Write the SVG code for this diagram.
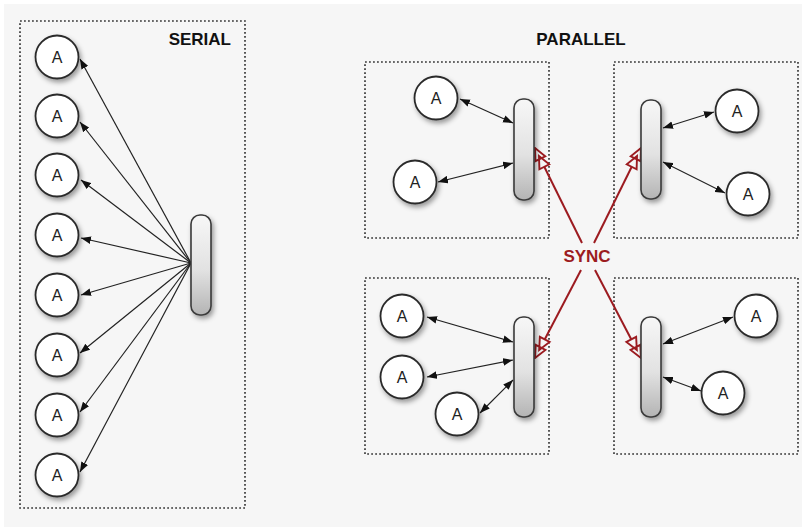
<svg xmlns="http://www.w3.org/2000/svg" width="806" height="529" viewBox="0 0 806 529">
<style>
.bg{fill:#f6f6f6}
.box{fill:none;stroke:#3a3a3a;stroke-width:1.7;stroke-dasharray:1.8 2.2}
.title{font-family:"Liberation Sans",Arial,sans-serif;font-weight:bold;font-size:17px;fill:#111}
.sync{font-family:"Liberation Sans",Arial,sans-serif;font-weight:bold;font-size:17px;fill:#9c1b20;text-anchor:middle}
.agent circle{fill:#fff;stroke:#2a2a2a;stroke-width:1.8;filter:url(#sh)}
.agent text{font-family:"Liberation Sans",Arial,sans-serif;font-size:16px;fill:#222;text-anchor:middle}
.rail rect{fill:url(#rg);stroke:#3a3a3a;stroke-width:1.6;filter:url(#sh)}
.c{stroke:#222;stroke-width:1.2;fill:none}
.one{marker-end:url(#ah)}
.two{marker-start:url(#ahs);marker-end:url(#ah)}
.red{stroke:#9c1b20;stroke-width:2;fill:none;marker-end:url(#rh)}
</style>
<defs>
<filter id="sh" x="-50%" y="-50%" width="200%" height="200%">
<feDropShadow dx="2" dy="3" stdDeviation="2.5" flood-color="#000" flood-opacity="0.38"/>
</filter>
<linearGradient id="rg" x1="0" y1="0" x2="0" y2="1">
<stop offset="0" stop-color="#f7f7f7"/>
<stop offset="0.55" stop-color="#e2e2e2"/>
<stop offset="1" stop-color="#b4b4b4"/>
</linearGradient>
<marker id="ah" markerUnits="userSpaceOnUse" viewBox="-10 -4 10 8" refX="0" refY="0" markerWidth="10" markerHeight="8" orient="auto">
<path d="M0,0 L-10,-3.8 L-10,3.8 Z" fill="#111"/>
</marker>
<marker id="ahs" markerUnits="userSpaceOnUse" viewBox="-10 -4 10 8" refX="0" refY="0" markerWidth="10" markerHeight="8" orient="auto-start-reverse">
<path d="M0,0 L-10,-3.8 L-10,3.8 Z" fill="#111"/>
</marker>
<marker id="rh" markerUnits="userSpaceOnUse" viewBox="-24 -7 25 14" refX="0" refY="0" markerWidth="25" markerHeight="14" orient="auto">
<path d="M-9,0 L-21,-5.5 L-21,5.5 Z M0,0 L-12,-5.5 L-12,5.5 Z" fill="#f6f6f6" stroke="#9c1b20" stroke-width="1.9" stroke-linejoin="miter"/>
</marker>
</defs>
<rect class="bg" x="4" y="4" width="798" height="523"/>

<g id="serial-box"><rect class="box" x="20" y="21" width="225" height="487"/><text class="title" x="231" y="45" text-anchor="end">SERIAL</text></g>
<g id="parallel-title"><text class="title" x="581" y="45" text-anchor="middle">PARALLEL</text></g>
<g id="box-tl"><rect class="box" x="365" y="62" width="184" height="176"/></g>
<g id="box-tr"><rect class="box" x="614" y="62" width="184" height="176"/></g>
<g id="box-bl"><rect class="box" x="365" y="278" width="184" height="176"/></g>
<g id="box-br"><rect class="box" x="614" y="278" width="184" height="176"/></g>

<g id="connectors">
<path class="c one" d="M191,263 L80,59"/>
<path class="c one" d="M191,263 L80,122"/>
<path class="c one" d="M191,263 L81,180"/>
<path class="c one" d="M191,263 L81,238"/>
<path class="c one" d="M191,263 L81,295"/>
<path class="c one" d="M191,263 L80,353"/>
<path class="c one" d="M191,263 L80,412"/>
<path class="c one" d="M191,263 L80,472"/>

<path class="c two" d="M460,99 L513,123"/>
<path class="c two" d="M438,182 L513,163"/>
<path class="c two" d="M663,128 L714,112"/>
<path class="c two" d="M663,162 L725,193"/>
<path class="c two" d="M427,317 L513,342"/>
<path class="c two" d="M427,377 L513,360"/>
<path class="c two" d="M480,413 L513,380"/>
<path class="c two" d="M663,344 L733,317"/>
<path class="c two" d="M663,377 L701,391"/>

<path class="red" d="M582,243 L535,148"/>
<path class="red" d="M594,243 L641,148"/>
<path class="red" d="M581,270 L535,358"/>
<path class="red" d="M595,270 L641,358"/>
</g>

<g id="sync-label"><text class="sync" x="587" y="262">SYNC</text></g>

<g id="serial-rail" class="rail"><rect x="191" y="215" width="20" height="100" rx="9"/></g>
<g id="rail-tl" class="rail"><rect x="514" y="99" width="20" height="101" rx="9"/></g>
<g id="rail-tr" class="rail"><rect x="641" y="100" width="20" height="99" rx="9"/></g>
<g id="rail-bl" class="rail"><rect x="514" y="317" width="20" height="100" rx="9"/></g>
<g id="rail-br" class="rail"><rect x="641" y="317" width="20" height="100" rx="9"/></g>

<g id="s1" class="agent"><circle cx="57" cy="57" r="21.5"/><text x="57" y="62.5">A</text></g>
<g id="s2" class="agent"><circle cx="57" cy="116" r="21.5"/><text x="57" y="121.5">A</text></g>
<g id="s3" class="agent"><circle cx="57" cy="175" r="21.5"/><text x="57" y="180.5">A</text></g>
<g id="s4" class="agent"><circle cx="57" cy="235" r="21.5"/><text x="57" y="240.5">A</text></g>
<g id="s5" class="agent"><circle cx="57" cy="295" r="21.5"/><text x="57" y="300.5">A</text></g>
<g id="s6" class="agent"><circle cx="57" cy="355" r="21.5"/><text x="57" y="360.5">A</text></g>
<g id="s7" class="agent"><circle cx="57" cy="415" r="21.5"/><text x="57" y="420.5">A</text></g>
<g id="s8" class="agent"><circle cx="57" cy="475" r="21.5"/><text x="57" y="480.5">A</text></g>

<g id="tl1" class="agent"><circle cx="436" cy="98" r="21.5"/><text x="436" y="103.5">A</text></g>
<g id="tl2" class="agent"><circle cx="415" cy="182" r="21.5"/><text x="415" y="187.5">A</text></g>
<g id="tr1" class="agent"><circle cx="737" cy="111" r="21.5"/><text x="737" y="116.5">A</text></g>
<g id="tr2" class="agent"><circle cx="748" cy="194" r="21.5"/><text x="748" y="199.5">A</text></g>
<g id="bl1" class="agent"><circle cx="402" cy="316" r="21.5"/><text x="402" y="321.5">A</text></g>
<g id="bl2" class="agent"><circle cx="402" cy="377" r="21.5"/><text x="402" y="382.5">A</text></g>
<g id="bl3" class="agent"><circle cx="457" cy="414" r="21.5"/><text x="457" y="419.5">A</text></g>
<g id="br1" class="agent"><circle cx="756" cy="316" r="21.5"/><text x="756" y="321.5">A</text></g>
<g id="br2" class="agent"><circle cx="723" cy="393" r="21.5"/><text x="723" y="398.5">A</text></g>
</svg>
